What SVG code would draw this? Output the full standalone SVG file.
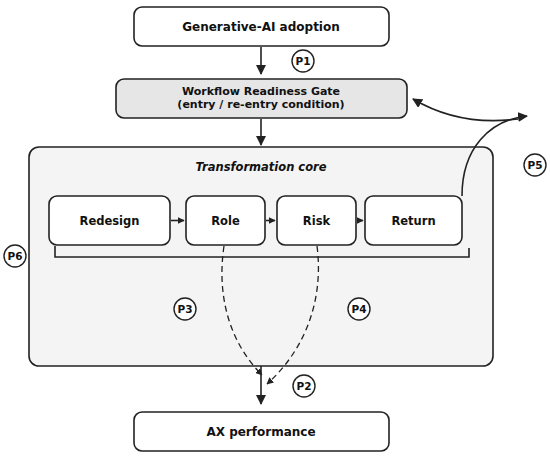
<svg xmlns="http://www.w3.org/2000/svg" width="550" height="456" viewBox="0 0 550 456">
<defs>
<style>
.box{fill:#fff;stroke:#222;stroke-width:1.6}
.t{font-family:"DejaVu Sans",sans-serif;font-weight:bold;fill:#111;text-anchor:middle}
.ln{fill:none;stroke:#222;stroke-width:1.6}
.dash{fill:none;stroke:#222;stroke-width:1.3;stroke-dasharray:6 4}
.pc{fill:#fff;stroke:#222;stroke-width:1.4}
.pt{font-family:"DejaVu Sans",sans-serif;font-weight:bold;font-size:10.5px;fill:#111;text-anchor:middle}
</style>
<marker id="ah" viewBox="0 0 10 10" refX="9" refY="5" markerWidth="7" markerHeight="7" markerUnits="userSpaceOnUse" orient="auto">
<path d="M0,0 L10,5 L0,10 z" fill="#222"/>
</marker>
<marker id="ahb" viewBox="0 0 10 10" refX="9" refY="5" markerWidth="10" markerHeight="10" markerUnits="userSpaceOnUse" orient="auto">
<path d="M0,0 L10,5 L0,10 z" fill="#222"/>
</marker>
</defs>
<rect width="550" height="456" fill="#fff"/>

<g id="core">
<rect x="29" y="147" width="464" height="219" rx="10" fill="#f4f4f4" stroke="#222" stroke-width="1.6"/>
<text class="t" x="261" y="171" font-size="11.5" font-style="italic">Transformation core</text>
</g>

<g id="adoption">
<rect class="box" x="134" y="7" width="255" height="39" rx="8"/>
<text class="t" x="261" y="31" font-size="12">Generative-AI adoption</text>
</g>

<g id="gate">
<rect x="116" y="79" width="291" height="39" rx="8" fill="#e6e6e6" stroke="#222" stroke-width="1.6"/>
<text class="t" x="261" y="95" font-size="11">Workflow Readiness Gate</text>
<text class="t" x="261" y="107.5" font-size="11">(entry / re-entry condition)</text>
</g>

<g id="redesign">
<rect class="box" x="49" y="196" width="121" height="49" rx="8"/>
<text class="t" x="109.5" y="224.5" font-size="11.5">Redesign</text>
</g>
<g id="role">
<rect class="box" x="186" y="196" width="79" height="49" rx="8"/>
<text class="t" x="225.5" y="224.5" font-size="11.5">Role</text>
</g>
<g id="risk">
<rect class="box" x="277" y="196" width="79" height="49" rx="8"/>
<text class="t" x="316.5" y="224.5" font-size="11.5">Risk</text>
</g>
<g id="return">
<rect class="box" x="365" y="196" width="97" height="49" rx="8"/>
<text class="t" x="413.5" y="224.5" font-size="11.5">Return</text>
</g>

<g id="performance">
<rect class="box" x="134" y="412" width="255" height="39" rx="8"/>
<text class="t" x="261" y="435.5" font-size="12">AX performance</text>
</g>

<g id="connectors">
<line class="ln" x1="261" y1="47" x2="261" y2="74" marker-end="url(#ahb)"/>
<line class="ln" x1="261" y1="119" x2="261" y2="145" marker-end="url(#ahb)"/>
<line class="ln" x1="171" y1="220.5" x2="184" y2="220.5" marker-end="url(#ah)"/>
<line class="ln" x1="266" y1="220.5" x2="275" y2="220.5" marker-end="url(#ah)"/>
<line class="ln" x1="357" y1="220.5" x2="363" y2="220.5" marker-end="url(#ah)"/>
<path class="ln" d="M55,246 V257 H469 V248"/>
<line class="ln" x1="261" y1="366" x2="261" y2="404" marker-end="url(#ahb)"/>
<path class="dash" d="M224,246 C216,300 232,345 262,375" marker-end="url(#ah)"/>
<path class="dash" d="M317,246 C324,300 305,350 267,384" marker-end="url(#ah)"/>
<path class="ln" d="M462,196 C462,148 490,120 527,116" marker-end="url(#ahb)"/>
<path class="ln" d="M518,119 C480,124 445,118 413,99" marker-end="url(#ahb)"/>
</g>

<g id="p1"><circle class="pc" cx="303" cy="61" r="11"/><text class="pt" x="303" y="64.7">P1</text></g>
<g id="p2"><circle class="pc" cx="304" cy="386" r="11"/><text class="pt" x="304" y="389.7">P2</text></g>
<g id="p3"><circle class="pc" cx="185" cy="309" r="11"/><text class="pt" x="185" y="312.7">P3</text></g>
<g id="p4"><circle class="pc" cx="359" cy="309" r="11"/><text class="pt" x="359" y="312.7">P4</text></g>
<g id="p5"><circle class="pc" cx="535" cy="165" r="11"/><text class="pt" x="535" y="168.7">P5</text></g>
<g id="p6"><circle class="pc" cx="15" cy="256" r="11"/><text class="pt" x="15" y="259.7">P6</text></g>
</svg>
